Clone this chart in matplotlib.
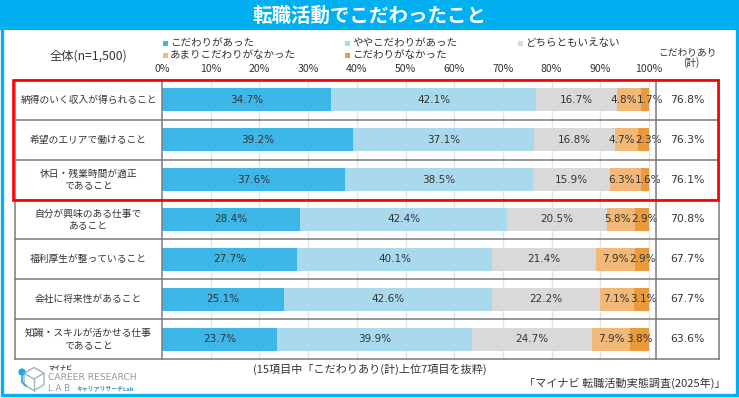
import matplotlib
matplotlib.use("Agg")
import matplotlib.pyplot as plt
from matplotlib.patches import Rectangle, Circle, RegularPolygon

plt.rcParams['font.family'] = ['Noto Sans CJK JP', 'DejaVu Sans']

# ---------------- data ----------------
title = "転職活動でこだわったこと"
categories = [
    "納得のいく収入が得られること",
    "希望のエリアで働けること",
    "休日・残業時間が適正\nであること",
    "自分が興味のある仕事で\nあること",
    "福利厚生が整っていること",
    "会社に将来性があること",
    "知識・スキルが活かせる仕事\nであること",
]
series_names = ["こだわりがあった", "ややこだわりがあった", "どちらともいえない",
                "あまりこだわりがなかった", "こだわりがなかった"]
v_strong = [34.7, 39.2, 37.6, 28.4, 27.7, 25.1, 23.7]
v_some = [42.1, 37.1, 38.5, 42.4, 40.1, 42.6, 39.9]
v_neutral = [16.7, 16.8, 15.9, 20.5, 21.4, 22.2, 24.7]
v_little = [4.8, 4.7, 6.3, 5.8, 7.9, 7.1, 7.9]
v_none = [1.7, 2.3, 1.6, 2.9, 2.9, 3.1, 3.8]
totals = [76.8, 76.3, 76.1, 70.8, 67.7, 67.7, 63.6]
tick_values = [0, 10, 20, 30, 40, 50, 60, 70, 80, 90, 100]
tick_labels = ["0%", "10%", "20%", "30%", "40%", "50%", "60%", "70%", "80%", "90%", "100%"]
colors = ["#3DB6E8", "#A9D9EC", "#D9D9D9", "#F1B877", "#E99A3C"]

W, H = 739, 398
fig = plt.figure(figsize=(W / 100, H / 100), dpi=100)
fig.patch.set_facecolor("white")


def fx(x):
    return x / W


def fy(y):
    return 1 - y / H


CYAN = "#00B0F0"
TXT = "#333333"

# title band and border
fig.patches.append(Rectangle((0, fy(30)), 1, 30 / H, transform=fig.transFigure,
                             facecolor=CYAN, edgecolor="none", zorder=0))
fig.patches.append(Rectangle((fx(1.5), fy(395)), fx(735), (394 - 1.5) / H,
                             transform=fig.transFigure, facecolor="none",
                             edgecolor=CYAN, linewidth=2.4, zorder=0))
fig.text(fx(369), fy(16), title, ha="center", va="center", color="white",
         fontsize=14, fontweight="bold")

# ---------------- bar axes ----------------
X0, X100, YT, YB = 162, 649, 80, 359
ax = fig.add_axes([fx(X0), fy(YB), (X100 - X0) / W, (YB - YT) / H])
ax.set_xlim(0, 100)
n = len(categories)
ax.set_ylim(n - 0.5, -0.5)
for s in ax.spines.values():
    s.set_visible(False)
ax.set_facecolor("none")

PXU = (X100 - X0) / 100.0  # pixels per percent


def px2x(px):
    return (px - X0) / PXU


# light grid
for t in tick_values[1:]:
    ax.plot([t, t], [-0.5, n - 0.5], color="#E4E4E4", lw=1, zorder=0, clip_on=False)

ys = list(range(n))
series = [v_strong, v_some, v_neutral, v_little, v_none]
lefts = [0.0] * n
centers = []
for vals, c in zip(series, colors):
    ax.barh(ys, vals, left=lefts, height=0.58, color=c, edgecolor="none", zorder=2)
    centers.append([l + v / 2 for l, v in zip(lefts, vals)])
    lefts = [l + v for l, v in zip(lefts, vals)]

# segment labels (last two spread apart when too close, as in the source)
MIN_GAP = 27 / PXU
for i in range(n):
    pos = [centers[k][i] for k in range(5)]
    if pos[4] - pos[3] < MIN_GAP:
        mid = (pos[3] + pos[4]) / 2
        pos[3] = mid - MIN_GAP / 2
        pos[4] = mid + MIN_GAP / 2
    for k in range(5):
        ax.text(pos[k], i, f"{series[k][i]:.1f}%", ha="center", va="center",
                fontsize=7.5, color=TXT, zorder=3, family=["DejaVu Sans"])

# table lines
xl, xr, xsep = px2x(15), px2x(719), px2x(656)
LC = "#7A7A7A"
for k in range(n + 1):
    ax.plot([xl, xr], [k - 0.5, k - 0.5], color=LC, lw=1.1, zorder=1, clip_on=False)
for xv in [xl, 0, xsep, xr]:
    ax.plot([xv, xv], [-0.5, n - 0.5], color=LC, lw=1.1, zorder=4, clip_on=False)

# labels
xlab = (xl + 0) / 2
xtot = (xsep + xr) / 2
for i, (cat, tot) in enumerate(zip(categories, totals)):
    ax.text(xlab, i, cat, ha="center", va="center", fontsize=7.0, color=TXT,
            linespacing=1.25, clip_on=False)
    ax.text(xtot, i, f"{tot:.1f}%", ha="center", va="center", fontsize=7.8,
            color=TXT, clip_on=False, family=["DejaVu Sans"])

# red highlight
ax.add_patch(Rectangle((px2x(13), -0.5), px2x(718) - px2x(13), 3.0, fill=False,
                       edgecolor="#FF0000", lw=1.9, zorder=6, clip_on=False))

# ticks on top
ax.xaxis.set_ticks_position("top")
ax.set_xticks(tick_values)
ax.set_xticklabels(tick_labels)
ax.tick_params(axis="x", length=0, pad=4, labelsize=7.6, labelcolor=TXT)
ax.set_yticks([])

# ---------------- legend / headers ----------------
leg_pos = [(163, 43), (345, 43), (518, 43), (163, 55), (345, 55)]
for (x, y), name, c in zip(leg_pos, series_names, colors):
    fig.patches.append(Rectangle((fx(x), fy(y + 2.5)), 5 / W, 5 / H,
                                 transform=fig.transFigure, facecolor=c,
                                 edgecolor="none"))
    fig.text(fx(x + 7), fy(y), name, ha="left", va="center", fontsize=7.6, color=TXT)

fig.text(fx(88), fy(56), "全体(n=1,500)", ha="center", va="center", fontsize=8.8, color=TXT)
fig.text(fx(688), fy(52), "こだわりあり", ha="center", va="center", fontsize=7.0, color=TXT)
fig.text(fx(691), fy(63), "(計)", ha="center", va="center", fontsize=7.0, color=TXT)

# footer
fig.text(fx(370), fy(369), "(15項目中「こだわりあり(計)上位7項目を抜粋)", ha="center",
         va="center", fontsize=8, color=TXT)
fig.text(fx(726), fy(383), "「マイナビ 転職活動実態調査(2025年)」", ha="right",
         va="center", fontsize=8, color=TXT)

# logo (pixel-unit axes so shapes keep their proportions)
lax = fig.add_axes([fx(14), fy(394), 34 / W, 30 / H])
lax.set_xlim(0, 34)
lax.set_ylim(0, 30)
lax.axis("off")
HC = "#9FB2C2"
hex_c = (20, 15)
lax.add_patch(RegularPolygon(hex_c, numVertices=6, radius=11.5, orientation=0,
                             fill=False, edgecolor=HC, lw=1.0))
import math
for ang in (90, 210, 330):
    a = math.radians(ang)
    lax.plot([hex_c[0], hex_c[0] + 11.5 * math.cos(a)],
             [hex_c[1], hex_c[1] - 11.5 * math.sin(a)], color=HC, lw=1.0)
lax.plot([8, 8, 12], [22, 12, 8], color="#1EA7E1", lw=1.2)
lax.add_patch(Circle((8, 22), 3.6, facecolor="#1EA7E1", edgecolor="none"))

fig.text(fx(48), fy(368), "マイナビ", ha="left", va="center", fontsize=4.3,
         fontweight="bold", color="#444444")
fig.text(fx(48), fy(378), "CAREER RESEARCH", ha="left", va="center", fontsize=6.6,
         color="#8E9AA6", family=["DejaVu Sans"])
fig.text(fx(48), fy(388.5), "L A B", ha="left", va="center", fontsize=6.2,
         color="#8E9AA6", family=["DejaVu Sans"])
fig.text(fx(76), fy(388), "キャリアリサーチLab", ha="left", va="center", fontsize=4.2,
         color="#2E8FC9", fontweight="bold")

fig.savefig("out.png", dpi=100)
